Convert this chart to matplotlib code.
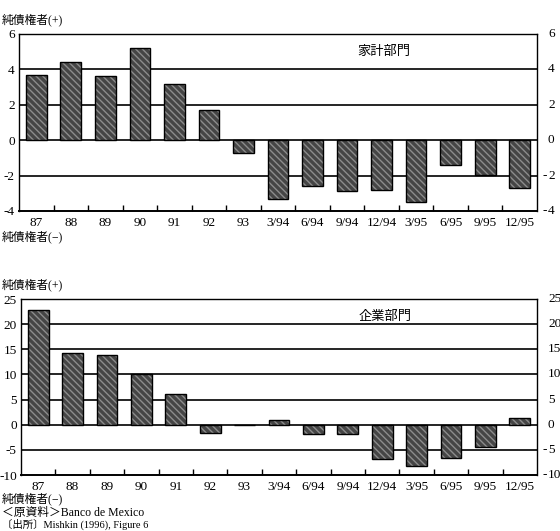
import numpy as np
import matplotlib
matplotlib.use("Agg")
import matplotlib.pyplot as plt
from matplotlib.transforms import blended_transform_factory, offset_copy

plt.rcParams['font.family'] = ['Liberation Serif', 'Noto Sans CJK JP']

# data
periods = ['87', '88', '89', '90', '91', '92', '93', '3/94', '6/94', '9/94',
           '12/94', '3/95', '6/95', '9/95', '12/95']
household = [3.7, 4.4, 3.6, 5.2, 3.2, 1.7, -0.75, -3.35, -2.6, -2.85,
             -2.8, -3.5, -1.4, -1.95, -2.7]
corporate = [22.8, 14.2, 13.9, 10.1, 6.2, -1.6, 0.0, 1.0, -1.9, -1.9,
             -6.8, -8.2, -6.6, -4.5, 1.4]
house_ticks = [6, 4, 2, 0, -2, -4]
corp_ticks = [25, 20, 15, 10, 5, 0, -5, -10]

fig = plt.figure(figsize=(5.6, 5.31), dpi=100)
W, H = 560, 531


def px_axes(x0, y0, x1, y1):
    return fig.add_axes([x0 / W, 1 - y1 / H, (x1 - x0) / W, (y1 - y0) / H])


def draw_panel(ax, values, ticks, title):
    x = np.arange(len(periods))
    # textured bars: dark fill with light hatch, then black outline
    ax.bar(x, values, width=0.6, color='#454545', edgecolor='#8c8c8c',
           hatch='\\\\\\\\\\', linewidth=0, zorder=3)
    ax.bar(x, values, width=0.6, fill=False, edgecolor='black',
           linewidth=1.0, zorder=4)
    ax.set_xlim(-0.5, len(periods) - 0.5)
    ax.set_ylim(ticks[-1], ticks[0])
    for t in ticks[1:-1]:
        ax.axhline(t, color='black', linewidth=1.2, zorder=2)
    ax.set_xticks(x)
    ax.set_xticklabels(periods, fontsize=9.5)
    ax.set_xticks(x[:-1] + 0.5, minor=True)
    ax.tick_params(axis='x', which='major', length=0, pad=4)
    ax.tick_params(axis='x', which='minor', direction='in', length=4,
                   width=1.0)
    ax.set_yticks(ticks)
    ax.set_yticklabels([str(t) for t in ticks], fontsize=9.5)
    ax.tick_params(axis='y', length=0, pad=3)
    # right-hand labels: digits aligned, minus sign hanging to the left
    tr = blended_transform_factory(ax.transAxes, ax.transData)
    digits_tr = offset_copy(tr, fig=fig, x=11, y=0, units='dots')
    minus_tr = offset_copy(tr, fig=fig, x=10, y=0, units='dots')
    for t in ticks:
        ax.text(1.0, t, str(abs(t)), transform=digits_tr, fontsize=9.5,
                ha='left', va='center', clip_on=False)
        if t < 0:
            ax.text(1.0, t, '-', transform=minus_tr, fontsize=9.5,
                    ha='right', va='center', clip_on=False)
    for s in ax.spines.values():
        s.set_linewidth(1.0)
    ax.spines['bottom'].set_linewidth(1.4)
    ax.text(0.705, 0.9, title, transform=ax.transAxes, fontsize=9.5,
            ha='center', va='center')


ax1 = px_axes(19, 34, 537, 211)
draw_panel(ax1, household, house_ticks, '家計部門')

ax2 = px_axes(21, 299, 537, 475)
draw_panel(ax2, corporate, corp_ticks, '企業部門')

fig.text(2 / W, 1 - 20 / H, '純債権者(+)', fontsize=8.5, va='center')
fig.text(2 / W, 1 - 237 / H, '純債権者(−)', fontsize=8.5, va='center')
fig.text(2 / W, 1 - 285 / H, '純債権者(+)', fontsize=8.5, va='center')
fig.text(2 / W, 1 - 499 / H, '純債権者(−)', fontsize=8.5, va='center')
fig.text(2 / W, 1 - 513 / H, '＜原資料＞Banco de Mexico', fontsize=8.5,
         va='center')
fig.text(2 / W, 1 - 524 / H, '〔出所〕Mishkin (1996), Figure 6', fontsize=7.5,
         va='center')

fig.savefig('out.png', dpi=100)
